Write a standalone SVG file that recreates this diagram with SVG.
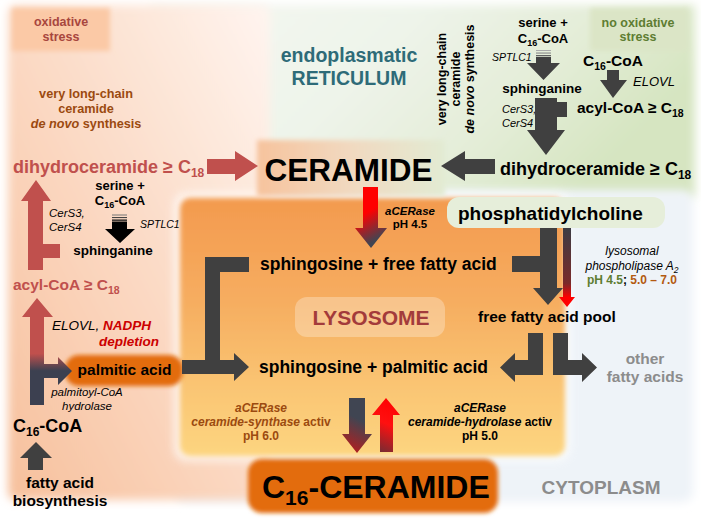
<svg xmlns="http://www.w3.org/2000/svg" width="701" height="526" viewBox="0 0 701 526">
<defs>
<style>
text{font-family:"Liberation Sans",Arial,Helvetica,sans-serif;fill:#000}
.b{font-weight:bold}
.it{font-style:italic}
.mid{text-anchor:middle}
.dk{fill:#404040}
.rd{fill:#c0504d}
.tr{fill:#c0504d}
.br{fill:#9b4a10}
.gr{fill:#8c8c8c}
.or{fill:#e36c0a}
</style>
<filter id="soft" x="-10%" y="-10%" width="120%" height="120%"><feGaussianBlur stdDeviation="5"/></filter>
<filter id="soft2" x="-10%" y="-10%" width="120%" height="120%"><feGaussianBlur stdDeviation="2.5"/></filter>
<filter id="glow" x="-20%" y="-40%" width="140%" height="180%"><feGaussianBlur stdDeviation="2"/></filter>
<linearGradient id="gOx" x1="0" y1="1" x2="1" y2="0">
<stop offset="0" stop-color="#f7c09c"/><stop offset="0.5" stop-color="#fbdac5"/><stop offset="1" stop-color="#fff5f0"/>
</linearGradient>
<linearGradient id="gER" x1="0" y1="0" x2="1" y2="0.35">
<stop offset="0" stop-color="#f6f7f2"/><stop offset="0.45" stop-color="#eef4ea"/><stop offset="0.75" stop-color="#e4edd8"/><stop offset="1" stop-color="#d6e5c1"/>
</linearGradient>
<linearGradient id="gLys" x1="0" y1="0" x2="0" y2="1">
<stop offset="0" stop-color="#f39a4e"/><stop offset="0.4" stop-color="#f6ad60"/><stop offset="0.75" stop-color="#fac674"/><stop offset="1" stop-color="#fdd580"/>
</linearGradient>
<linearGradient id="gCer" x1="0" y1="0" x2="1" y2="0">
<stop offset="0" stop-color="#f6c39d"/><stop offset="0.5" stop-color="#f1d9c0"/><stop offset="1" stop-color="#e2ebd3"/>
</linearGradient>
<linearGradient id="gLow" gradientUnits="userSpaceOnUse" x1="0" y1="298" x2="0" y2="405">
<stop offset="0" stop-color="#c0504d"/><stop offset="0.52" stop-color="#c0504d"/><stop offset="0.68" stop-color="#3c4050"/><stop offset="1" stop-color="#3c4050"/>
</linearGradient>
<linearGradient id="gAc1" gradientUnits="userSpaceOnUse" x1="355" y1="190" x2="387" y2="245">
<stop offset="0" stop-color="#ff0000"/><stop offset="0.4" stop-color="#ff0000"/><stop offset="0.85" stop-color="#404552"/>
</linearGradient>
<linearGradient id="gThin" gradientUnits="userSpaceOnUse" x1="0" y1="228" x2="0" y2="307">
<stop offset="0" stop-color="#3c3c44"/><stop offset="0.7" stop-color="#7a2a2a"/><stop offset="0.88" stop-color="#ff0000"/>
</linearGradient>
<linearGradient id="gDown" gradientUnits="userSpaceOnUse" x1="372" y1="398" x2="342" y2="453">
<stop offset="0" stop-color="#404552"/><stop offset="0.4" stop-color="#404552"/><stop offset="0.9" stop-color="#b02020"/>
</linearGradient>
<linearGradient id="gUp" gradientUnits="userSpaceOnUse" x1="400" y1="400" x2="375" y2="455">
<stop offset="0" stop-color="#ff0000"/><stop offset="0.45" stop-color="#ff1010"/><stop offset="1" stop-color="#603038"/>
</linearGradient>
</defs>

<rect width="701" height="526" fill="#ffffff"/>

<g id="backgrounds">
<rect x="150" y="5" width="545" height="192" fill="url(#gER)" filter="url(#soft)"/>
<rect x="175" y="190" width="518" height="312" rx="10" fill="#eef3f8" filter="url(#soft)"/>
<rect x="8" y="5" width="262" height="495" rx="8" fill="url(#gOx)" filter="url(#soft)"/>
<rect x="174" y="193" width="396" height="268" rx="12" fill="#ffffff" opacity="0.7" filter="url(#soft)"/>
<rect x="180" y="198" width="385" height="258" rx="10" fill="url(#gLys)" filter="url(#soft2)"/>
</g>

<g id="label-oxidative-stress">
<rect x="12" y="8" width="98" height="43" fill="#fbc9a6" filter="url(#soft2)"/>
<text x="61" y="26" class="b mid" font-size="12.5" style="fill:#a8463e">oxidative</text>
<text x="61" y="41" class="b mid" font-size="12.5" style="fill:#a8463e">stress</text>
</g>

<g id="label-vlc-left">
<text x="86" y="98" class="b mid br" font-size="12.7">very long-chain</text>
<text x="86" y="113" class="b mid br" font-size="12.7">ceramide</text>
<text x="86" y="128" class="b mid br" font-size="12.7"><tspan class="it">de novo</tspan> synthesis</text>
</g>

<g id="label-er">
<text x="349" y="62" class="b mid" font-size="19.5" style="fill:#2e6b78">endoplasmatic</text>
<text x="349" y="85" class="b mid" font-size="19.5" style="fill:#2e6b78">RETICULUM</text>
</g>

<g id="label-vlc-right">
<text transform="translate(446,79) rotate(-90)" class="b mid" font-size="12.5">very long-chain</text>
<text transform="translate(460,79) rotate(-90)" class="b mid" font-size="12.5">ceramide</text>
<text transform="translate(474,79) rotate(-90)" class="b mid" font-size="12.5"><tspan class="it">de novo</tspan> synthesis</text>
</g>

<g id="label-no-oxidative-stress">
<rect x="590" y="8" width="98" height="43" fill="#dbe5c6" filter="url(#soft2)"/>
<text x="638" y="27" class="b mid" font-size="12.5" style="fill:#5e7d32">no oxidative</text>
<text x="638" y="41" class="b mid" font-size="12.5" style="fill:#5e7d32">stress</text>
</g>

<g id="node-ceramide">
<rect x="257" y="140" width="188" height="56" fill="url(#gCer)" filter="url(#soft2)"/>
<text x="348.5" y="181" class="b mid" font-size="31.5">CERAMIDE</text>
</g>

<g id="node-dihydro-left">
<text x="13" y="173" class="b" font-size="18" style="fill:#c0504d">dihydroceramide ≥ C<tspan font-size="12" dy="4" style="fill:#c0504d">18</tspan></text>
</g>
<g id="node-serine-left">
<text x="120" y="190" class="b mid" font-size="13">serine +</text>
<text x="120" y="205" class="b mid" font-size="13">C<tspan font-size="9" dy="3">16</tspan><tspan dy="-3">-CoA</tspan></text>
</g>
<g id="node-sphinganine-left">
<text x="113" y="255" class="b mid" font-size="13.5">sphinganine</text>
</g>
<g id="node-acyl-left">
<text x="13" y="290" class="b" font-size="15.5" style="fill:#c0504d">acyl-CoA ≥ C<tspan font-size="10.5" dy="3.5" style="fill:#c0504d">18</tspan></text>
</g>
<g id="node-palmitic-acid">
<rect x="65" y="355" width="118" height="31" rx="14" class="or" filter="url(#glow)"/>
<text x="124.5" y="375" class="b mid" font-size="15.5">palmitic acid</text>
</g>
<g id="node-c16coa-left">
<text x="13" y="432" class="b" font-size="18">C<tspan font-size="12" dy="4">16</tspan><tspan dy="-4">-CoA</tspan></text>
</g>
<g id="node-fa-biosynthesis">
<text x="60" y="488" class="b mid" font-size="15.5">fatty acid</text>
<text x="60" y="506" class="b mid" font-size="15.5">biosynthesis</text>
</g>

<g id="node-serine-right">
<text x="543" y="27" class="b mid" font-size="13">serine +</text>
<text x="543" y="43" class="b mid" font-size="13">C<tspan font-size="9" dy="3">16</tspan><tspan dy="-3">-CoA</tspan></text>
</g>
<g id="node-sphinganine-right">
<text x="542" y="93" class="b mid" font-size="13.5">sphinganine</text>
</g>
<g id="node-c16coa-right">
<text x="583" y="66" class="b" font-size="15.5">C<tspan font-size="10.5" dy="3.5">16</tspan><tspan dy="-3.5">-CoA</tspan></text>
</g>
<g id="node-acyl-right">
<text x="577" y="113" class="b" font-size="15.5">acyl-CoA ≥ C<tspan font-size="10.5" dy="3.5">18</tspan></text>
</g>
<g id="node-dihydro-right">
<text x="500" y="175" class="b" font-size="18">dihydroceramide ≥ C<tspan font-size="12" dy="4">18</tspan></text>
</g>

<g id="node-phosphatidylcholine">
<rect x="447" y="197" width="218" height="31" rx="12" fill="#e6eeda"/>
<text x="458" y="220" class="b" font-size="19">phosphatidylcholine</text>
</g>
<g id="node-sph-ffa">
<text x="260" y="270" class="b" font-size="17.5">sphingosine + free fatty acid</text>
</g>
<g id="label-lysosome">
<rect x="295" y="297" width="150" height="40" rx="12" fill="#ffffff" opacity="0.28"/>
<text x="371" y="325" class="b mid" font-size="21" style="fill:#a33b3b">LYSOSOME</text>
</g>
<g id="node-ffa-pool">
<text x="478" y="322" class="b" font-size="15.5">free fatty acid pool</text>
</g>
<g id="node-sph-palmitic">
<text x="259" y="373" class="b" font-size="17.5">sphingosine + palmitic acid</text>
</g>
<g id="node-other-fa">
<text x="645" y="364" class="b mid gr" font-size="15.5">other</text>
<text x="645" y="382" class="b mid gr" font-size="15.5">fatty acids</text>
</g>
<g id="node-c16-ceramide">
<rect x="248" y="459" width="250" height="54" rx="14" class="or" filter="url(#glow)"/>
<text x="262" y="498" class="b" font-size="32">C<tspan font-size="21" dy="7">16</tspan><tspan dy="-7">-CERAMIDE</tspan></text>
</g>
<g id="label-cytoplasm">
<text x="601" y="494" class="b mid gr" font-size="19">CYTOPLASM</text>
</g>

<g id="enzyme-labels">
<text x="140" y="228" class="it" font-size="10.5">SPTLC1</text>
<text x="49" y="217" class="it" font-size="11.5">CerS3,</text>
<text x="49" y="231" class="it" font-size="11.5">CerS4</text>
<text x="52" y="330" font-size="13.5"><tspan class="it">ELOVL, </tspan><tspan class="b it" style="fill:#cc0000">NADPH</tspan></text>
<text x="99" y="346" class="b it" font-size="13.5" style="fill:#cc0000">depletion</text>
<text x="87" y="396" class="it mid" font-size="11.5">palmitoyl-CoA</text>
<text x="87" y="410" class="it mid" font-size="11.5">hydrolase</text>
<text x="492" y="61" class="it" font-size="10.5">SPTLC1</text>
<text x="502" y="113" class="it" font-size="11">CerS3,</text>
<text x="502" y="127" class="it" font-size="11">CerS4</text>
<text x="633" y="86" class="it" font-size="13">ELOVL</text>
<text x="410" y="215" class="b it mid" font-size="11.5">aCERase</text>
<text x="410" y="228" class="b mid" font-size="11.5">pH 4.5</text>
<text x="632" y="255" class="it mid" font-size="12">lysosomal</text>
<text x="632" y="270" class="it mid" font-size="12">phospholipase A<tspan font-size="8.5" dy="2.5">2</tspan></text>
<text x="632" y="284" class="b mid" font-size="12"><tspan style="fill:#5e7d32">pH 4.5</tspan>; <tspan style="fill:#b35a10">5.0 – 7.0</tspan></text>
<text x="261" y="412" class="b it mid br" font-size="12">aCERase</text>
<text x="261" y="426" class="b mid br" font-size="12"><tspan class="it">ceramide-synthase</tspan> activ</text>
<text x="261" y="440" class="b mid br" font-size="12">pH 6.0</text>
<text x="480" y="412" class="b it mid" font-size="12">aCERase</text>
<text x="480" y="426" class="b mid" font-size="12"><tspan class="it">ceramide-hydrolase</tspan> activ</text>
<text x="480" y="440" class="b mid" font-size="12">pH 5.0</text>
</g>

<g id="connectors">
<path class="tr" d="M207,159 H235 V151 L258,166 L235,181 V174 H207 Z"/>
<path class="dk" d="M495,159 H465 V151 L441,166 L465,181 V174 H495 Z"/>
<rect x="536" y="50" width="15" height="1" fill="#aaaaaa"/>
<rect x="536" y="52.5" width="15" height="1.1" fill="#888888"/>
<rect x="536" y="55" width="15" height="1.3" fill="#606060"/>
<path class="dk" d="M536,57 H551 V63 H560 L543.5,80 L527,63 H536 Z"/>
<path class="dk" d="M535,98 H557 V102 H567 V117 H557 V130 H565 L546,155 L527,130 H535 Z"/>
<path class="dk" d="M607,70 H619 V80 H627 L613,98 L600,80 H607 Z"/>
<path class="tr" d="M28,270 V201 H21 L36,180 L51,201 H43 V244 H60 V258 H43 V270 Z"/>
<rect x="112" y="214.5" width="15" height="1" fill="#777777"/>
<rect x="112" y="217" width="15" height="1.1" fill="#444444"/>
<rect x="112" y="219.5" width="15" height="1.3" fill="#111111"/>
<path fill="#000" d="M112,221.5 H127 V229 H135 L120,243 L105,229 H112 Z"/>
<path fill="url(#gLow)" d="M30,405 V317 H22 L37,298 L53,317 H44 V364 H58 V357 L72,371 L58,385 V378 H44 V405 Z"/>
<path class="dk" d="M28,470 V458 H20 L36,442 L52,458 H43 V470 Z"/>
<path class="dk" d="M182,360 H205 V257 H249 V272 H220 V360 H234 V353 L249,367 L234,381 V374 H182 Z"/>
<path fill="url(#gAc1)" d="M363,187 H378 V228 H387 L371,248 L355,228 H363 Z"/>
<path class="dk" d="M540,228 H557 V288 H563 L548,305 L533,288 H540 V272 H512 V256 H540 Z"/>
<path fill="url(#gThin)" d="M563,228 H571 V297 H575 L567,307 L559,297 H563 Z"/>
<path class="dk" d="M528,333 H543 V375 H515 V382 L500,367.5 L515,353 V360 H528 Z"/>
<path class="dk" d="M553,333 H568 V360 H582 V353 L597,367.5 L582,382 V375 H553 Z"/>
<path fill="url(#gDown)" d="M349,398 H365 V434 H372 L357,453 L342,434 H349 Z"/>
<path fill="url(#gUp)" d="M380,452 V415 H372 L386,398 L400,415 H393 V452 Z"/>
</g>
</svg>
